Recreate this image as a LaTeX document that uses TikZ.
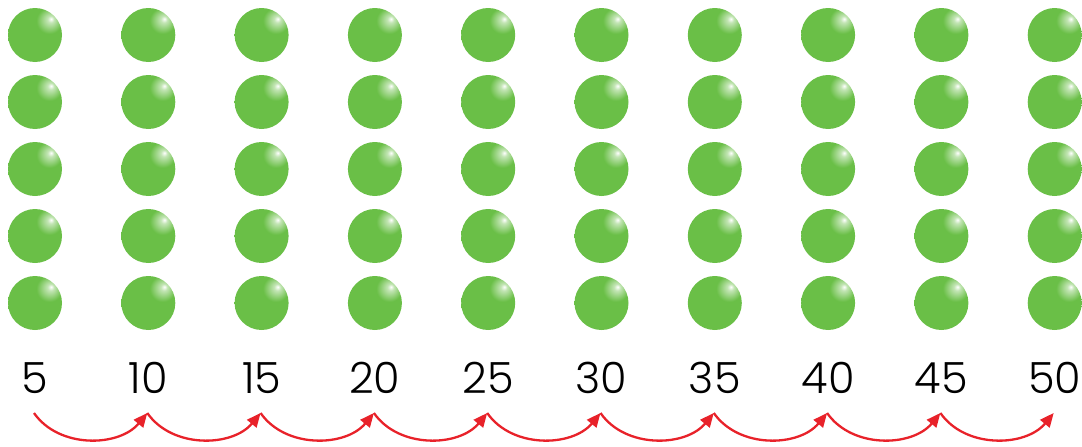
\documentclass[tikz,border=0pt]{standalone}
\usepackage{fontspec}
\setmainfont{Poppins}[UprightFont=* Light]
\usetikzlibrary{arrows.meta}
\definecolor{ballgreen}{HTML}{6ABF47}
\definecolor{arrowred}{HTML}{E8222A}
\pgfdeclareradialshading{greenball}{\pgfpoint{15bp}{15bp}}{color(0bp)=(white); color(3bp)=(white!60!ballgreen); color(12bp)=(ballgreen); color(100bp)=(ballgreen)}
\begin{document}
\begin{tikzpicture}[x=1pt,y=-1pt,
  ball/.style={circle, minimum size=54pt, inner sep=0pt, shading=greenball},
  num/.style={font=\fontsize{43}{43}\selectfont, anchor=base, inner sep=0pt},
  hop/.style={draw=arrowred, line width=2.3pt, -{Triangle[length=14pt,width=12pt]}}]
\useasboundingbox (0,0) rectangle (1082,447);
\foreach \i in {0,...,9} {
  \pgfmathsetmacro\xx{35+113.3*\i}
  \foreach \j in {0,...,4} {
    \pgfmathsetmacro\yy{35+67*\j}
    \node[ball] (b\i\j) at (\xx,\yy) {};
  }
  \pgfmathtruncatemacro\n{5*(\i+1)}
  \node[num] (n\i) at (\xx,393) {\n};
  \coordinate (a\i) at (\xx-1,413);
}
\foreach \i [count=\k] in {0,...,8} {
  \draw[hop] (a\i) .. controls +(25,36) and +(-28,34) .. (a\k);
}
\end{tikzpicture}
\end{document}
